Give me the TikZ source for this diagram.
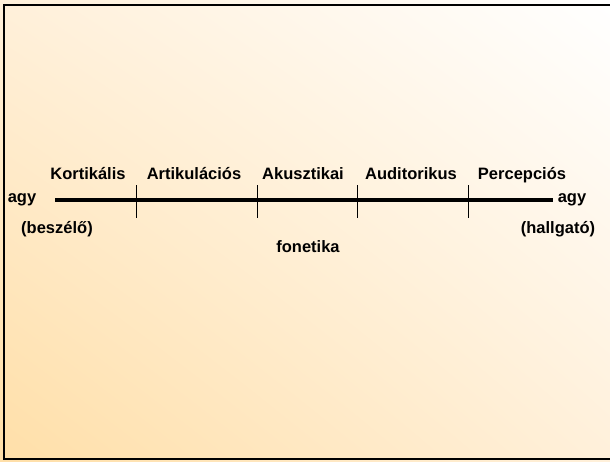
\documentclass[tikz,border=0pt]{standalone}
\usepackage{fontspec}
\setmainfont{Liberation Sans}
\usepackage{tikz}
\usetikzlibrary{positioning,shadings}

\definecolor{bgorange}{RGB}{255,223,168}
\definecolor{bgpeach}{RGB}{255,240,218}

\begin{document}
\begin{tikzpicture}[x=1pt,y=-1pt,font=\fontsize{16.5}{19}\selectfont\bfseries,
    lbl/.style={inner sep=0pt,anchor=center,text height=12pt,text depth=3.5pt}]
    \useasboundingbox (0,0) rectangle (610,461);
    \shade[upper left=bgpeach,upper right=white,lower left=bgorange,lower right=bgpeach] (0,0) rectangle (610,461);
    \draw[line width=2.5pt] (620,5) -- (4,5) -- (4,459) -- (620,459);
    % time line from speaker to listener
    \coordinate (start) at (55,200);
    \coordinate (end) at (553,200);
    \draw[line width=4.5pt] (start) -- (end);
    \coordinate (t1a) at (136,185); \coordinate (t1b) at (136,218);
    \coordinate (t2a) at (257,185); \coordinate (t2b) at (257,218);
    \coordinate (t3a) at (357,185); \coordinate (t3b) at (357,218);
    \coordinate (t4a) at (468,185); \coordinate (t4b) at (468,218);
    \draw[line width=0.8pt] (t1a) -- (t1b);
    \draw[line width=0.8pt] (t2a) -- (t2b);
    \draw[line width=0.8pt] (t3a) -- (t3b);
    \draw[line width=0.8pt] (t4a) -- (t4b);
    \node[lbl] (kort) at (88,175.5) {Kortikális};
    \node[lbl] (art) at (194,175.5) {Artikulációs};
    \node[lbl] (ak) at (303,175.5) {Akusztikai};
    \node[lbl] (aud) at (411,175.5) {Auditorikus};
    \node[lbl] (perc) at (522,175.5) {Percepciós};
    \node[lbl] (agyl) at (22,198.5) {agy};
    \node[lbl] (besz) at (57,229) {(beszélő)};
    \node[lbl] (agyr) at (572,198.5) {agy};
    \node[lbl] (hall) at (558,229) {(hallgató)};
    \node[lbl] (fon) at (308,248) {fonetika};
\end{tikzpicture}
\end{document}
